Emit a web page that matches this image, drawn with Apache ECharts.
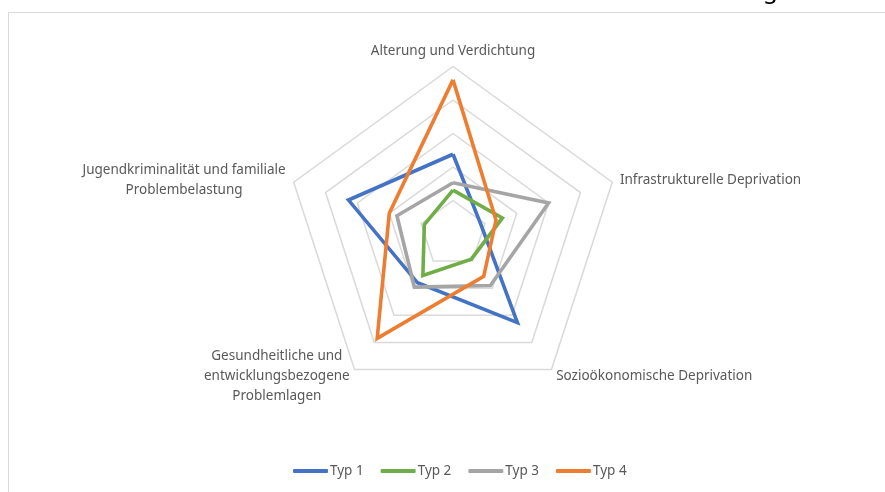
<!DOCTYPE html>
<html>
<head>
<meta charset="utf-8">
<script src="https://cdn.jsdelivr.net/npm/echarts@6/dist/echarts.min.js"></script>
<style>
  html, body { margin: 0; padding: 0; background: #fff; }
  #chart { width: 885px; height: 492px; }
</style>
</head>
<body>
<div id="chart"></div>
<script>
// Dimensions, listed from the top spoke and then counter-clockwise
const indicators = [
  'Alterung und Verdichtung',
  'Jugendkriminalität und familiale\nProblembelastung',
  'Gesundheitliche und\nentwicklungsbezogene\nProblemlagen',
  'Sozioökonomische Deprivation',
  'Infrastrukturelle Deprivation'
];
const scaleMax = 5;

// Profile values per type, same order as the indicators
const typ1 = [2.38, 3.28, 1.80, 3.27, 0.88];
const typ2 = [1.31, 0.90, 1.53, 0.93, 1.55];
const typ3 = [1.53, 1.76, 1.96, 1.90, 3.00];
const typ4 = [4.60, 2.00, 3.85, 1.56, 1.35];

const seriesNames = ['Typ 1', 'Typ 2', 'Typ 3', 'Typ 4'];
const seriesValues = [typ1, typ2, typ3, typ4];
const colors = ['#4472C4', '#70AD47', '#A5A5A5', '#ED7D31'];

const FONT = 'Noto Sans';
const FONT_SIZE = 13.5;

// Multi-line axis names are centred line by line inside a box as wide as the longest line
const ctx = document.createElement('canvas').getContext('2d');
ctx.font = FONT_SIZE + 'px "' + FONT + '"';
const nameRich = {};
indicators.forEach(function (name, i) {
  const lines = name.split('\n');
  const w = Math.max.apply(null, lines.map(function (l) { return ctx.measureText(l).width; }));
  nameRich['n' + i] = {
    align: 'center', width: Math.ceil(w), lineHeight: 20,
    fontSize: FONT_SIZE, fontFamily: FONT, color: '#595959'
  };
});

const chart = echarts.init(document.getElementById('chart'));

chart.setOption({
  backgroundColor: '#ffffff',
  animation: false,
  color: colors,
  graphic: [
    {
      type: 'rect',
      shape: { x: 8.5, y: 12.5, width: 900, height: 500 },
      style: { fill: 'none', stroke: '#D9D9D9', lineWidth: 1 },
      silent: true
    },
    {
      type: 'text',
      left: 763,
      top: -21,
      style: { text: 'g', font: '24px "Noto Sans"', fill: '#000000' },
      silent: true
    }
  ],
  legend: {
    bottom: 9,
    left: 288,
    itemWidth: 35,
    itemHeight: 4,
    itemGap: 17,
    icon: 'roundRect',
    textStyle: { color: '#595959', fontSize: FONT_SIZE, fontFamily: FONT, padding: [0, 0, 0, -3] },
    data: seriesNames
  },
  radar: {
    center: [453, 234],
    radius: 167.5,
    startAngle: 90,
    splitNumber: 5,
    shape: 'polygon',
    axisNameGap: 8,
    indicator: indicators.map(function (n) { return { name: n, max: scaleMax, min: 0 }; }),
    axisName: {
      color: '#595959',
      fontSize: FONT_SIZE,
      fontFamily: FONT,
      formatter: function (name) {
        const i = indicators.indexOf(name);
        const lines = name.split('\n');
        if (lines.length === 1) return name;
        return lines.map(function (l) { return '{n' + i + '|' + l + '}'; }).join('\n');
      },
      rich: nameRich
    },
    axisLine: { show: false },
    axisTick: { show: false },
    axisLabel: { show: false },
    splitArea: { show: false },
    splitLine: { lineStyle: { color: '#D9D9D9', width: 1.5 } }
  },
  series: [{
    type: 'radar',
    symbol: 'none',
    data: seriesNames.map(function (name, i) {
      return {
        name: name,
        value: seriesValues[i],
        lineStyle: { color: colors[i], width: 3.6, join: 'miter' },
        itemStyle: { color: colors[i] }
      };
    })
  }]
});
</script>
</body>
</html>
